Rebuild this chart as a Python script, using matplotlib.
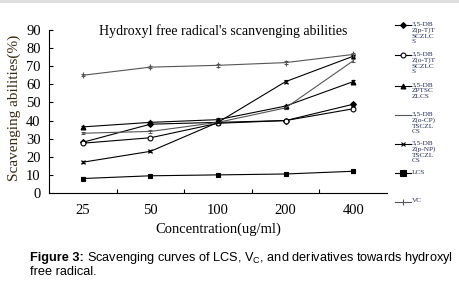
import numpy as np
import matplotlib.pyplot as plt
from matplotlib.lines import Line2D

plt.rcParams['mathtext.fontset'] = 'custom'
plt.rcParams['mathtext.rm'] = 'Liberation Sans'

conc = ['25', '50', '100', '200', '400']

pT = [28, 38, 39, 40, 49]          # 3,5-DBZ(p-T)TSCZLCS
oT = [27.5, 30.5, 38.5, 40, 46.5]  # 3,5-DBZ(o-T)TSCZLCS
pt = [36.5, 39, 40.5, 48, 61.5]    # 3,5-DBZPTSCZLCS
oCP = [33, 34, 39, 47, 73]         # 3,5-DBZ(o-CP)TSCZLCS
pNP = [17, 23, 39, 61.5, 75.5]     # 3,5-DBZ(p-NP)TSCZLCS
lcs = [8, 9.5, 10, 10.5, 12]       # LCS
vc = [65, 69.5, 70.5, 72, 76.5]    # VC

err = [0.6, 0.6, 0.7, 0.7, 0.8]

labels = ['3,5-DB\nZ(p-T)T\nSCZLC\nS', '3,5-DB\nZ(o-T)T\nSCZLC\nS',
          '3,5-DB\nZPTSC\nZLCS', '3,5-DB\nZ(o-CP)\nTSCZL\nCS',
          '3,5-DB\nZ(p-NP)\nTSCZL\nCS', 'LCS', 'VC']

series = [pT, oT, pt, oCP, pNP, lcs, vc]
styles = [
    dict(color='black', marker='D', ms=3, mfc='black'),
    dict(color='black', marker='o', ms=3.5, mfc='white'),
    dict(color='black', marker='^', ms=3.5, mfc='black'),
    dict(color='#555555', marker='', ms=0),
    dict(color='black', marker='x', ms=3.5),
    dict(color='black', marker='s', ms=3.5, mfc='black'),
    dict(color='#555555', marker='|', ms=4),
]

fig = plt.figure(figsize=(4.6, 2.83), dpi=100)
ax = fig.add_axes([49/460, 1 - 193/283, 338/460, 163/283])

x = np.arange(len(conc))
for ys, st in zip(series, styles):
    ax.errorbar(x, ys, yerr=err, lw=0.8, elinewidth=0.6, capsize=1.5,
                mew=0.8, **st)

serif = 'Liberation Serif'
ax.set_xlim(-0.5, 4.5)
ax.set_ylim(0, 90)
ax.set_yticks(range(0, 91, 10))
ax.set_xticks(x)
ax.set_xticklabels(conc, fontsize=10.5, family=serif)
ax.set_xticks(np.arange(0.5, 4.5, 1), minor=True)
ax.tick_params(axis='x', which='major', length=0, pad=8)
ax.tick_params(axis='x', which='minor', direction='in', length=3, width=0.8)
ax.tick_params(axis='y', direction='in', length=3, width=0.8, labelsize=10.5, pad=6)
for t in ax.get_yticklabels():
    t.set_family(serif)
for s in ['top', 'right']:
    ax.spines[s].set_visible(False)
for s in ['left', 'bottom']:
    ax.spines[s].set_linewidth(0.8)

ax.set_xlabel('Concentration(ug/ml)', fontsize=10.5, family=serif)
ax.xaxis.set_label_coords(0.5, -(223 - 193) / 163)
ax.set_ylabel('Scavenging abilities(%)', fontsize=11, family=serif,
              color='#3a2a10')
ax.yaxis.set_label_coords(-(49 - 21) / 338, 0.52)
fig.text(223/460, 1 - 31/283, "Hydroxyl free radical's scanvenging abilities",
         fontsize=10, family=serif, ha='center', va='center')

# legend drawn by hand
ly = [25, 55, 86, 115, 144, 173, 202]
for yy, lab, st in zip(ly, labels, styles):
    yf = 1 - yy / 283
    fig.add_artist(Line2D([395/460, 411/460], [yf, yf], color=st['color'], lw=0.8))
    if st['marker']:
        ms = 5 if st['marker'] == 's' else st['ms']
        fig.add_artist(Line2D([403/460], [yf], color=st['color'], marker=st['marker'],
                              ms=ms, mfc=st.get('mfc', st['color']), mew=0.8))
    fig.text(412/460, yf + 3.5/283, lab, fontsize=5.2, family=serif, color='#1f2a5a',
             va='top', ha='left', linespacing=1.15)

# top border
fig.add_artist(Line2D([0, 1], [1 - 1/283, 1 - 1/283], color='#dddddd', lw=2))

cap1 = fig.text(30/460, 1 - 258/283, 'Figure 3:', fontsize=9.2, family='Liberation Sans',
                weight='bold', va='center', ha='left')
fig.canvas.draw()
bb = cap1.get_window_extent()
fig.text((bb.x1 + 3) / 460, 1 - 258/283,
         r'Scavenging curves of LCS, V$_\mathrm{C}$, and derivatives towards hydroxyl',
         fontsize=9.2, family='Liberation Sans', va='center', ha='left')
fig.text(30/460, 1 - 272/283, 'free radical.', fontsize=9.2, family='Liberation Sans',
         va='center', ha='left')

fig.savefig('out.png', dpi=100)
